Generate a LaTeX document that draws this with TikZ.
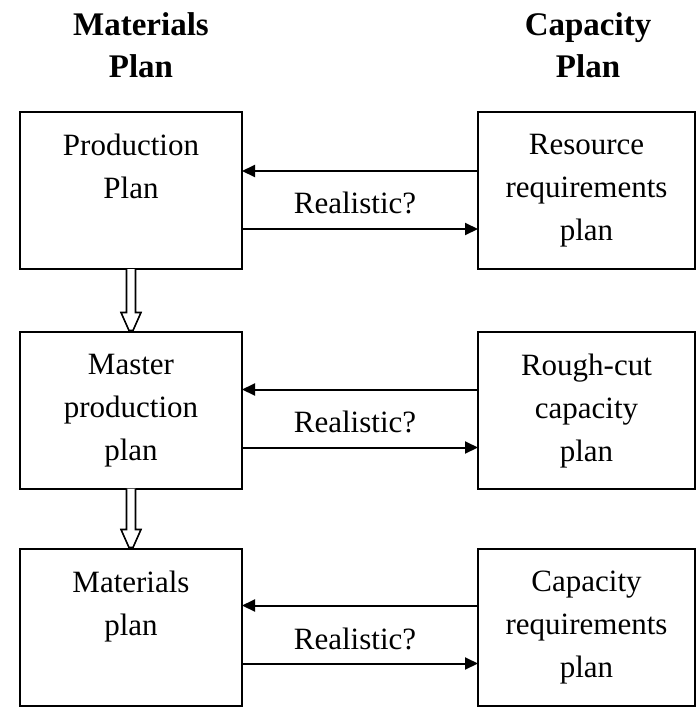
\documentclass[tikz,border=0pt]{standalone}
\usepackage{fontspec}
\setmainfont{Liberation Serif}
\usetikzlibrary{arrows.meta,calc}
\begin{document}
\begin{tikzpicture}[x=1pt,y=-1pt,
  box/.style={draw,line width=2pt,rectangle,minimum height=157pt,inner sep=0pt,outer sep=0pt},
  leftbox/.style={box,minimum width=222pt},
  rightbox/.style={box,minimum width=217pt},
  boxtext/.style={anchor=north,inner sep=0pt,align=center,font=\fontsize{31}{43}\selectfont,yshift=-22pt},
  header/.style={anchor=north,inner sep=0pt,align=center,font=\bfseries\fontsize{33}{42}\selectfont},
  query/.style={anchor=base,inner sep=0pt,font=\fontsize{31}{43}\selectfont},
  link/.style={line width=2pt,-{Triangle[length=13pt,width=12pt]}},
  flow/.style={line width=1.6pt,fill=white,line join=miter}]

\useasboundingbox[fill=white] (0,0) rectangle (697,707);

% column headings
\node[header] (hm) at (141,12) {Materials\\Plan};
\node[header] (hc) at (588,12) {Capacity\\Plan};

% materials side
\node[leftbox] (p1) at (131,190.5) {};
\node[leftbox] (m1) at (131,410) {};
\node[leftbox] (s1) at (131,627) {};

% capacity side
\node[rightbox] (r1) at (586.5,190.5) {};
\node[rightbox] (r2) at (586.5,410) {};
\node[rightbox] (r3) at (586.5,627) {};

% box texts
\node[boxtext] (tp1) at (p1.north) {Production\\Plan};
\node[boxtext] (tm1) at (m1.north) {Master\\production\\plan};
\node[boxtext] (ts1) at (s1.north) {Materials\\plan};
\node[boxtext] (tr1) at (r1.north) {Resource\\requirements\\plan};
\node[boxtext] (tr2) at (r2.north) {Rough-cut\\capacity\\plan};
\node[boxtext] (tr3) at (r3.north) {Capacity\\requirements\\plan};

% feasibility checks between the two sides
\foreach \a/\b/\u/\l in {p1/r1/59/117, m1/r2/58/116, s1/r3/57/115}{
  \draw[link] ([yshift=-\u pt]\b.north west) -- ([yshift=-\u pt]\a.north east);
  \draw[link] ([yshift=-\l pt]\a.north east) -- ([yshift=-\l pt]\b.north west);
}
\node[query] (q1) at ($(p1.north east)!0.5!(r1.north west)+(-5,101)$) {Realistic?};
\node[query] (q2) at ($(m1.north east)!0.5!(r2.north west)+(-5,101)$) {Realistic?};
\node[query] (q3) at ($(s1.north east)!0.5!(r3.north west)+(-5,101)$) {Realistic?};

% hollow arrows down the materials side
\foreach \a/\b in {p1/m1, m1/s1}{
  \draw[flow] ([xshift=-4.5pt]\a.south)
    -- ([xshift=-4.5pt,yshift=19pt]\b.north)
    -- ([xshift=-10pt,yshift=19pt]\b.north)
    -- ([xshift=-2pt,yshift=1pt]\b.north)
    -- ([xshift=2pt,yshift=1pt]\b.north)
    -- ([xshift=10pt,yshift=19pt]\b.north)
    -- ([xshift=4.5pt,yshift=19pt]\b.north)
    -- ([xshift=4.5pt]\a.south);
}
\end{tikzpicture}
\end{document}
